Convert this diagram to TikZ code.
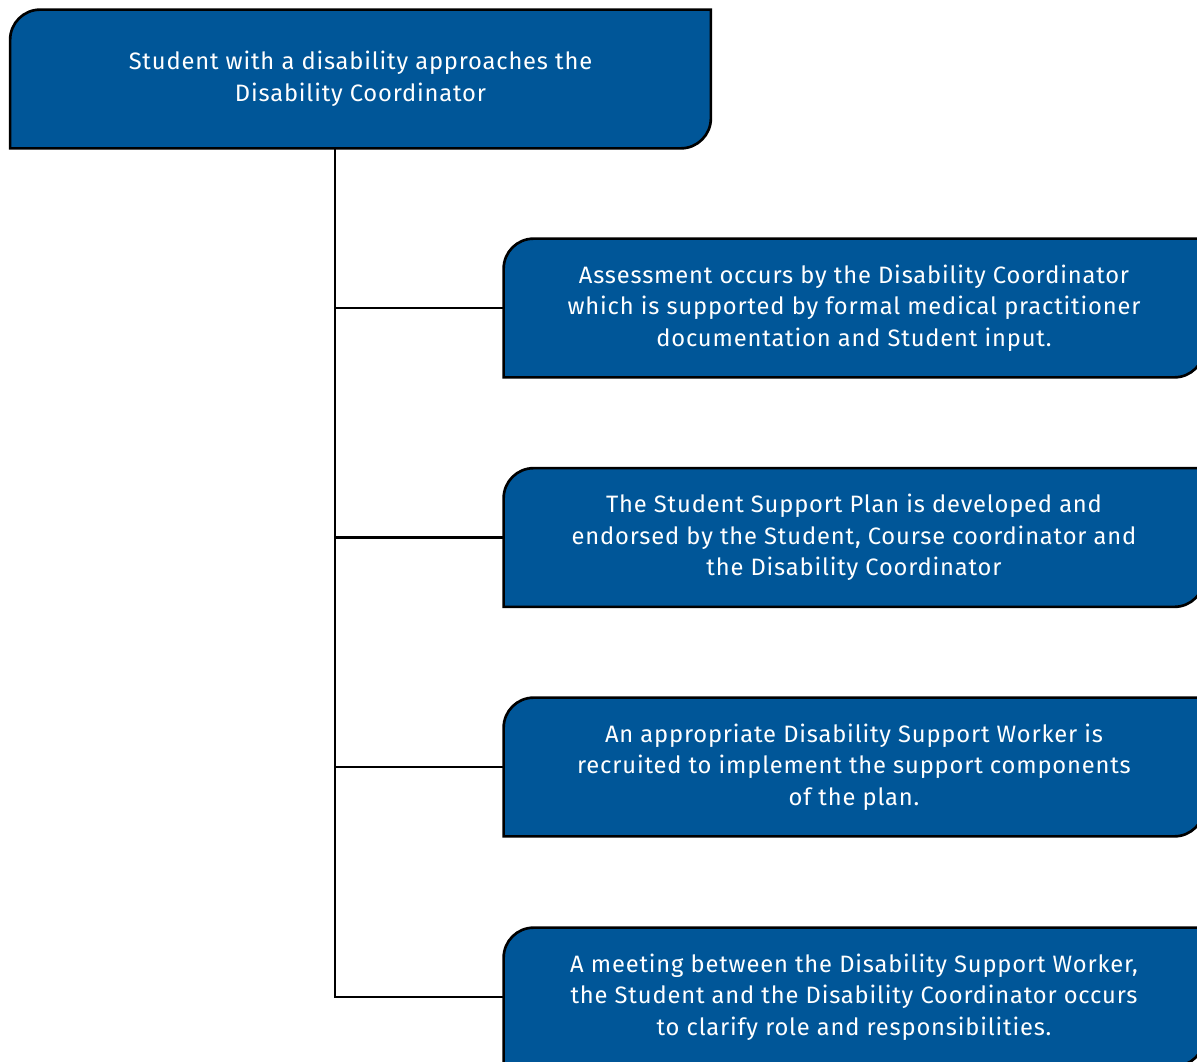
\documentclass[tikz,border=0pt]{standalone}
\usepackage{fontspec}
\setmainfont{Fira Sans}[LetterSpace=3.5]
\usetikzlibrary{backgrounds}
\definecolor{planblue}{RGB}{0,86,152}
\begin{document}
\begin{tikzpicture}[
    stagebox/.style={minimum width=14cm, minimum height=2.76cm, inner sep=0pt,
        text=white, align=center, font=\fontsize{13.5}{18}\selectfont},
    boxline/.style={draw=black, line width=1.5pt, fill=planblue},
    linkline/.style={draw=black, line width=1.3pt}]
    \useasboundingbox (0,0) rectangle (23.94,-21.22);

    % Draw the boxes
    \node[stagebox] (top) at (7.21,-1.58) {Student with a disability approaches the\\Disability Coordinator};
    \node[stagebox] (s1) at (17.08,-6.16) {Assessment occurs by the Disability Coordinator\\which is supported by formal medical practitioner\\documentation and Student input.};
    \node[stagebox] (s2) at (17.08,-10.75) {The Student Support Plan is developed and\\endorsed by the Student, Course coordinator and\\the Disability Coordinator};
    \node[stagebox] (s3) at (17.08,-15.34) {An appropriate Disability Support Worker is\\recruited to implement the support components\\of the plan.};
    \node[stagebox] (s4) at (17.08,-19.94) {A meeting between the Disability Support Worker,\\the Student and the Disability Coordinator occurs\\to clarify role and responsibilities.};

    % Box outlines, round at top left and bottom right only
    \begin{scope}[on background layer]
        \foreach \n in {top,s1,s2,s3,s4}
            \path[boxline] (\n.south west) -- ([yshift=-0.6cm]\n.north west)
                arc[start angle=180, end angle=90, radius=0.6cm] -- (\n.north east)
                -- ([yshift=0.6cm]\n.south east)
                arc[start angle=0, end angle=-90, radius=0.6cm] -- cycle;
    \end{scope}

    % Draw the connectors
    \coordinate (trunk) at (6.7,-3);
    \draw[linkline] (trunk |- top.south) |- (s4.west);
    \foreach \n in {s1,s2,s3}
        \draw[linkline] (trunk |- \n.west) -- (\n.west);
\end{tikzpicture}
\end{document}
